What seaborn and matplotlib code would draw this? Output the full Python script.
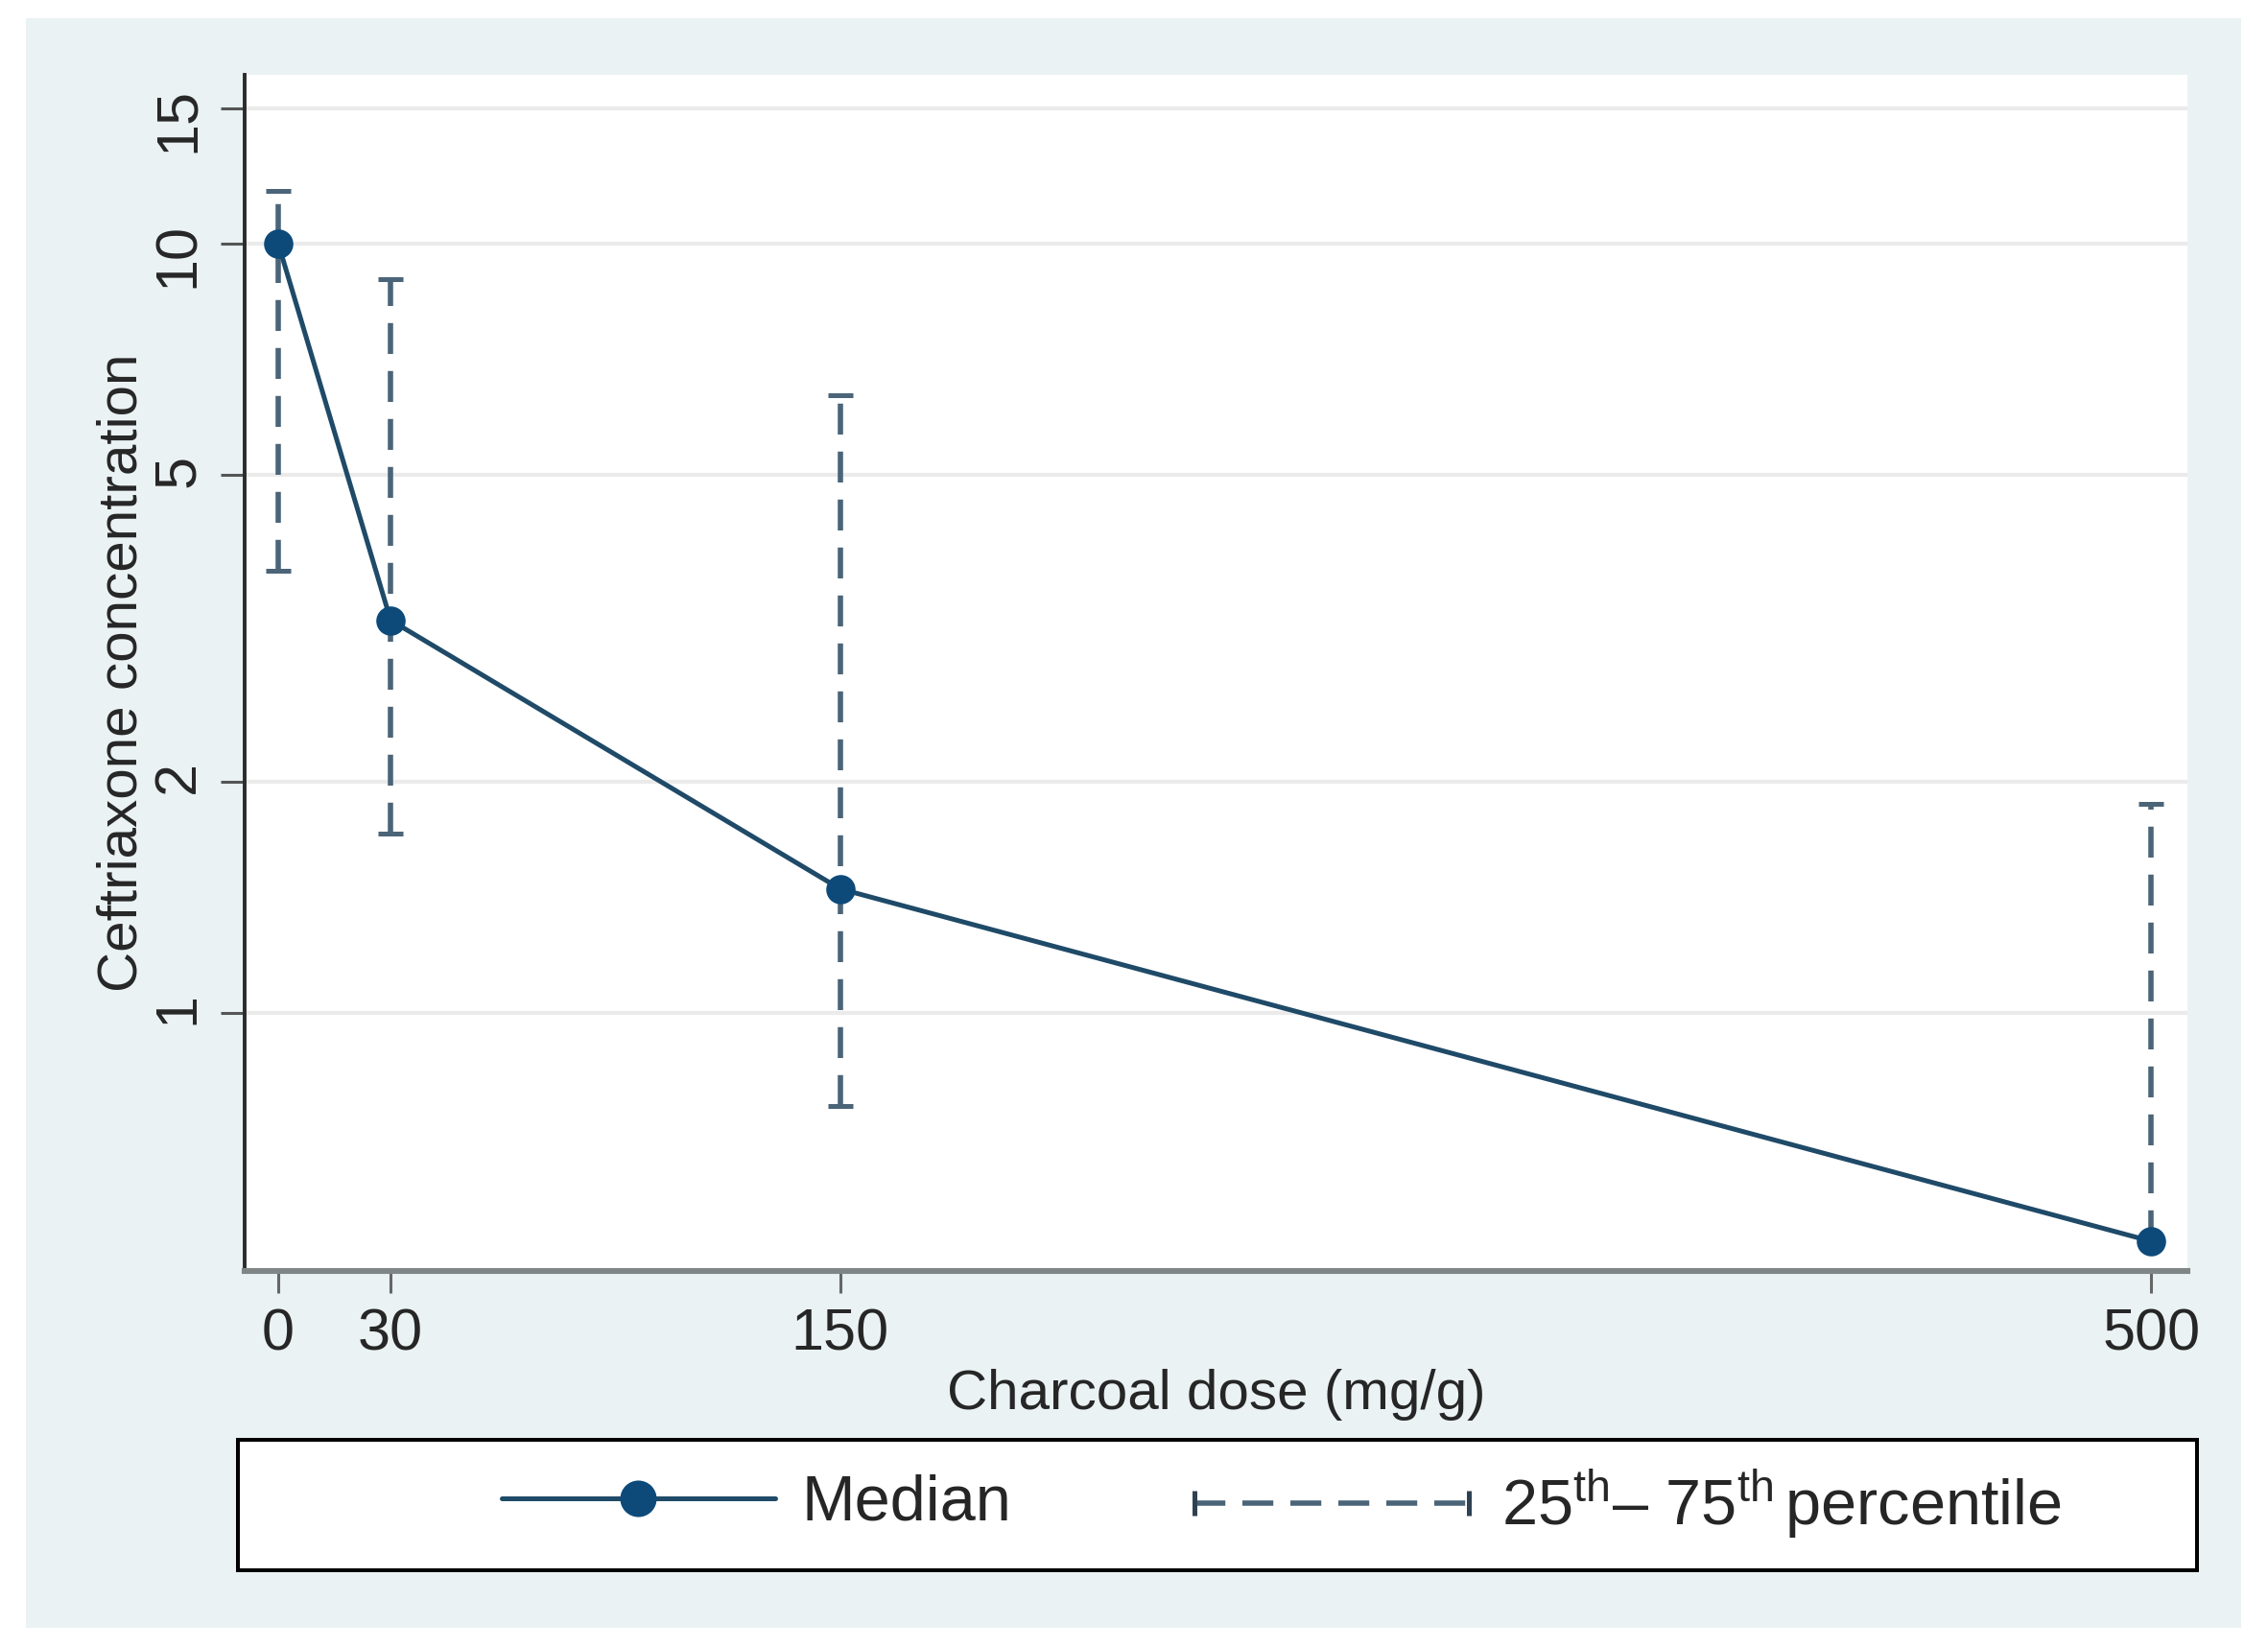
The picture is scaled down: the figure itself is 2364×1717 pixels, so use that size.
import numpy as np
import pandas as pd
import matplotlib
matplotlib.use('Agg')
import matplotlib.pyplot as plt
import seaborn as sns
from matplotlib.lines import Line2D
from matplotlib.patches import Rectangle
from matplotlib.legend_handler import HandlerLine2D
from matplotlib.ticker import FixedLocator, FixedFormatter, NullLocator

# values (log y axis)
dose = [0, 30, 150, 500]
median = [10.0, 3.24, 1.45, 0.505]
p25 = [3.76, 1.71, 0.757, 0.505]
p75 = [11.7, 9.0, 6.35, 1.87]
yticks = [1, 2, 5, 10, 15]
ytick_labels = ['1', '2', '5', '10', '15']
xticks = [0, 30, 150, 500]

line_color = '#1f4a68'
marker_color = '#0d4a7a'
bar_color = '#4b6478'
cap_color = '#2e4152'

sns.set_style('white')
plt.rcParams['font.family'] = ['Liberation Sans', 'DejaVu Sans']
plt.rcParams['mathtext.fontset'] = 'custom'
plt.rcParams['mathtext.rm'] = 'Liberation Sans'
plt.rcParams['mathtext.it'] = 'Liberation Sans:italic'
plt.rcParams['mathtext.bf'] = 'Liberation Sans:bold'

df = pd.DataFrame({'dose': dose, 'median': median, 'p25': p25, 'p75': p75})

fig = plt.figure(figsize=(11.82, 8.585), dpi=200, facecolor='white')
# light graph region like stata s2color
fig.add_artist(Rectangle((0.0114, 0.01165), 0.9767, 0.9773, transform=fig.transFigure,
                         facecolor='#eaf2f3', edgecolor='none', zorder=-10))
ax = fig.add_axes([0.1079, 0.2283, 0.8566, 0.7263])
ax.set_facecolor('white')

# IQR bars, dashed
lo = df['median'] - df['p25']
hi = df['p75'] - df['median']
eb = ax.errorbar(df['dose'], df['median'], yerr=[lo, hi], fmt='none', ecolor=bar_color,
                 elinewidth=2.0, capsize=4.85, capthick=1.8, zorder=2)
eb[2][0].set_linestyle((0, (5.8, 3.2)))
for cap in eb[1]:
    cap.set_color(cap_color)

# median line
sns.lineplot(data=df, x='dose', y='median', ax=ax, color=line_color, linewidth=1.8,
             marker='o', markersize=11, markerfacecolor=marker_color,
             markeredgecolor=marker_color, markeredgewidth=0, zorder=3, legend=False)

ax.set_yscale('log')
ax.set_ylim(0.462, 16.58)
ax.set_xlim(-8.96, 509.7)
ax.yaxis.set_major_locator(FixedLocator(yticks))
ax.yaxis.set_major_formatter(FixedFormatter(ytick_labels))
ax.yaxis.set_minor_locator(NullLocator())
ax.set_xticks(xticks)
ax.set_xticklabels([str(v) for v in xticks])

ax.grid(False)
ax.grid(axis='y', color='#ebebeb', linewidth=1.5)
ax.set_axisbelow(True)

for s in ['top', 'right']:
    ax.spines[s].set_visible(False)
ax.spines['left'].set_color('#2b2b2b')
ax.spines['left'].set_linewidth(1.4)
ax.spines['bottom'].set_color('#808585')
ax.spines['bottom'].set_linewidth(2.2)

ax.tick_params(axis='x', direction='out', length=8.3, width=1.1, color='#666666',
               labelsize=22, pad=5.4, bottom=True)
ax.tick_params(axis='y', direction='out', length=9, width=1.1, color='#555555',
               labelsize=22, pad=5.5, labelrotation=90, left=True)

ax.set_xlabel('Charcoal dose (mg/g)', fontsize=21)
ax.set_ylabel('Ceftriaxone concentration', fontsize=21)
ax.xaxis.set_label_coords(0.5, -0.082)
ax.yaxis.set_label_coords(-0.0495, 0.5)

# legend box
fig.add_artist(Rectangle((0.1049, 0.0466), 0.8638, 0.0792, transform=fig.transFigure,
                         facecolor='white', edgecolor='black', linewidth=1.44, zorder=1))
h_med = Line2D([], [], color=line_color, lw=1.8, marker='o', ms=13.7,
               mfc=marker_color, mec=marker_color, mew=0)
leg1 = fig.legend([h_med], ['Median'], loc='center left', bbox_to_anchor=(0.2212, 0.0868),
                  frameon=False, fontsize=24, handlelength=4.27, handletextpad=0.42,
                  borderpad=0, borderaxespad=0,
                  handler_map={h_med: HandlerLine2D(numpoints=1)})
h_pct = Line2D([], [], color=bar_color, lw=2.0, ls=(0, (5.8, 3.2)), marker='|', ms=9.7,
               mew=1.8, mec=cap_color)
leg2 = fig.legend([h_pct], [r'25$^{\rm th}$– 75$^{\rm th}\,$percentile'], loc='center left',
                  bbox_to_anchor=(0.5265, 0.0868), frameon=False, fontsize=24,
                  handlelength=4.3, handletextpad=0.5, borderpad=0, borderaxespad=0,
                  handler_map={h_pct: HandlerLine2D(numpoints=2, marker_pad=0)})
leg1.set_zorder(5)
leg2.set_zorder(5)

fig.savefig('out.png', dpi=200, facecolor='white')
